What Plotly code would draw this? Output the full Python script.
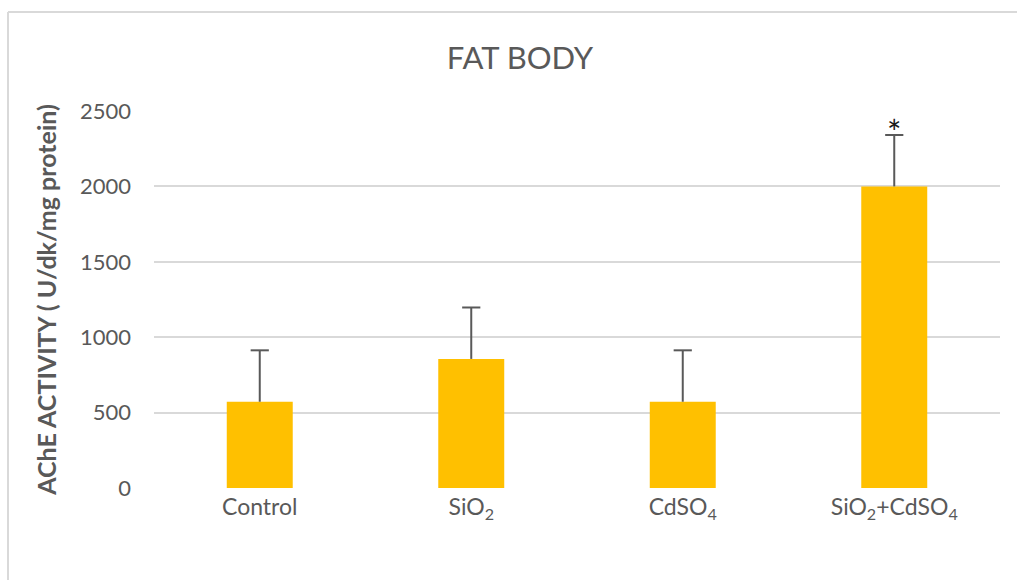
import plotly.graph_objects as go

# AChE activity in fat body tissue, per treatment group
categories = ["Control", "SiO<sub>2</sub>", "CdSO<sub>4</sub>", "SiO<sub>2</sub>+CdSO<sub>4</sub>"]
activity = [572, 856, 572, 2000]
std_error = [341, 341, 341, 341]
significance = ["", "", "", "*"]

W, H = 1017, 580
ML, MR, MT, MB = 154, 17, 111, 92
plot_w = W - ML - MR
plot_h = H - MT - MB

TEXT = "#595959"
ERR = "#595959"
FONT = "Lato, 'Open Sans', sans-serif"

fig = go.Figure()

fig.add_trace(
    go.Bar(
        x=categories,
        y=activity,
        marker=dict(color="#FFC000", line=dict(width=0)),
        error_y=dict(
            type="data",
            symmetric=False,
            array=std_error,
            arrayminus=[0] * len(std_error),
            color=ERR,
            thickness=2,
            width=0,
        ),
        hoverinfo="skip",
    )
)

# caps on the upper ends of the error bars
fig.add_trace(
    go.Scatter(
        x=categories,
        y=[v + e for v, e in zip(activity, std_error)],
        mode="markers",
        marker=dict(symbol="line-ew", size=13, line=dict(color=ERR, width=2)),
        hoverinfo="skip",
    )
)

# significance markers above the error bars
for cat, val, err, mark in zip(categories, activity, std_error, significance):
    if mark:
        fig.add_annotation(
            x=cat, y=val + err, text=mark, showarrow=False,
            yanchor="bottom", yshift=-19,
            font=dict(family=FONT, size=34, color="#1a1a1a"),
        )

# chart-area border (light gray frame around the whole chart)
def px_x(p):
    return (p - ML) / plot_w

def px_y(p):
    return (H - MB - p) / plot_h

border = dict(color="#D9D9D9", width=2)
fig.add_shape(type="line", xref="paper", yref="paper",
              x0=px_x(8), x1=px_x(W + 20), y0=px_y(12), y1=px_y(12), line=border)
fig.add_shape(type="line", xref="paper", yref="paper",
              x0=px_x(8), x1=px_x(8), y0=px_y(12), y1=px_y(H + 20), line=border)

fig.update_layout(
    width=W, height=H,
    margin=dict(l=ML, r=MR, t=MT, b=MB),
    paper_bgcolor="white", plot_bgcolor="white",
    bargap=0.688,
    showlegend=False,
    font=dict(family=FONT, color=TEXT, size=22),
    title=dict(
        text="FAT BODY",
        x=520 / W, xref="container", xanchor="center",
        y=1 - 58 / H, yref="container", yanchor="middle",
        font=dict(family=FONT, size=31, color=TEXT),
    ),
)

fig.update_xaxes(
    showgrid=False, showline=False, zeroline=False,
    ticks="", ticklabelstandoff=3,
    tickfont=dict(family=FONT, size=23, color=TEXT),
)

fig.update_yaxes(
    range=[0, 2500], dtick=500, tick0=0,
    showgrid=True, gridcolor="#D9D9D9", gridwidth=2,
    zeroline=False, showline=False, ticks="",
    ticklabelstandoff=22,
    tickfont=dict(family=FONT, size=22, color=TEXT),
    title=dict(
        text="<b>AChE ACTIVITY ( U/dk/mg protein)</b>",
        font=dict(family=FONT, size=25, color=TEXT),
        standoff=16,
    ),
)

fig.write_html("out.html")
